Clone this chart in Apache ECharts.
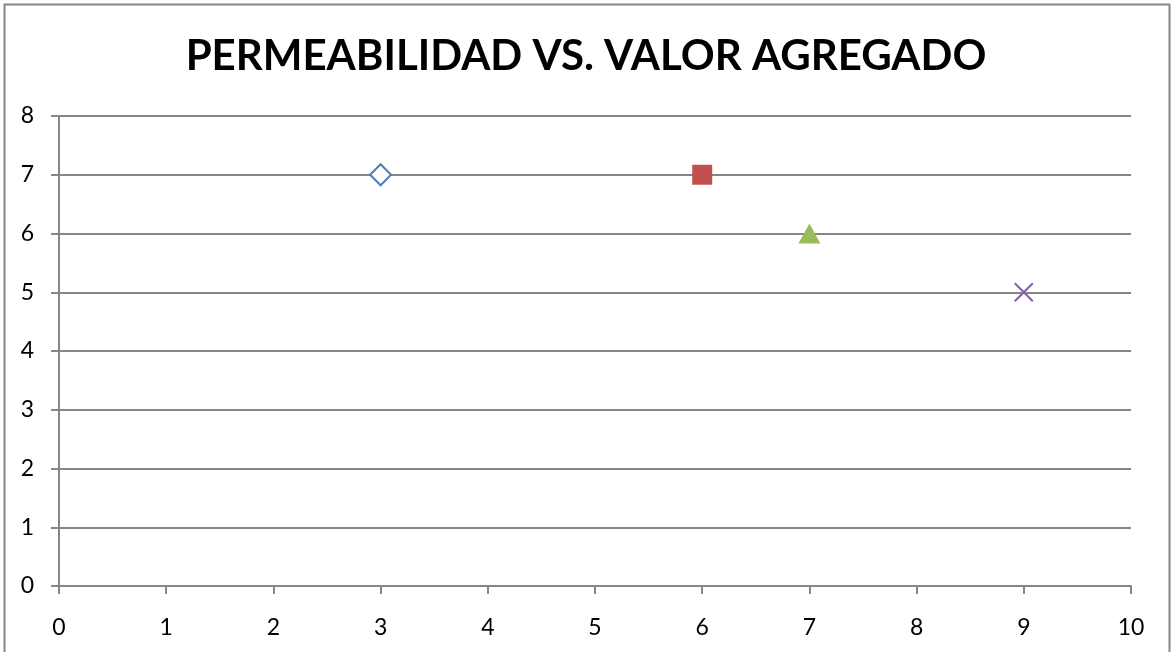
<!DOCTYPE html>
<html>
<head>
<meta charset="utf-8">
<script src="https://cdn.jsdelivr.net/npm/echarts@6/dist/echarts.min.js"></script>
<style>
  html, body { margin: 0; padding: 0; background: #fff; }
  #chart { width: 1172px; height: 652px; }
</style>
</head>
<body>
<div id="chart"></div>
<script>
// one point per series
const seriesNames = ['Serie 1', 'Serie 2', 'Serie 3', 'Serie 4']
const xValues = [3, 6, 7, 9]
const yValues = [7, 7, 6, 5]

const chart = echarts.init(document.getElementById('chart'))

const styles = [
  { symbol: 'diamond', symbolSize: [21, 21], itemStyle: { opacity: 1, color: '#fff', borderColor: '#4A7EBB', borderWidth: 2 } },
  { symbol: 'rect', symbolSize: [20, 20], itemStyle: { opacity: 1, color: '#C0504D' } },
  { symbol: 'triangle', symbolSize: [22, 20], itemStyle: { opacity: 1, color: '#9BBB59' } },
  { symbol: 'path://M0,0L10,10M10,0L0,10', symbolSize: [18, 18], itemStyle: { opacity: 1, color: 'none', borderColor: '#8064A2', borderWidth: 2 } }
]

const labelFont = { fontFamily: 'Lato', fontSize: 23, color: '#000' }

chart.setOption({
  animation: false,
  graphic: [
    {
      type: 'rect',
      shape: { x: 4.5, y: 4.5, width: 1165, height: 660 },
      style: { fill: 'none', stroke: '#868686', lineWidth: 2 }
    }
  ],
  title: {
    text: 'PERMEABILIDAD VS. VALOR AGREGADO',
    left: 'center',
    top: 30,
    textStyle: { fontFamily: 'Lato', fontWeight: 'bold', fontSize: 42, color: '#000' }
  },
  grid: { left: 59, right: 41, top: 116, bottom: 66 },
  xAxis: {
    type: 'value',
    min: 0,
    max: 10,
    interval: 1,
    axisLine: { lineStyle: { color: '#868686', width: 2 } },
    axisTick: { show: true, length: 8, lineStyle: { color: '#868686', width: 2 } },
    axisLabel: Object.assign({ margin: 30 }, labelFont),
    splitLine: { show: false }
  },
  yAxis: {
    type: 'value',
    min: 0,
    max: 8,
    interval: 1,
    axisLine: { show: true, lineStyle: { color: '#868686', width: 2 } },
    axisTick: { show: true, length: 8, lineStyle: { color: '#868686', width: 2 } },
    axisLabel: Object.assign({ margin: 25 }, labelFont),
    splitLine: { lineStyle: { color: '#868686', width: 2 } }
  },
  series: seriesNames.map((name, i) => Object.assign({
    name,
    type: 'scatter',
    data: [[xValues[i], yValues[i]]]
  }, styles[i]))
})
</script>
</body>
</html>
